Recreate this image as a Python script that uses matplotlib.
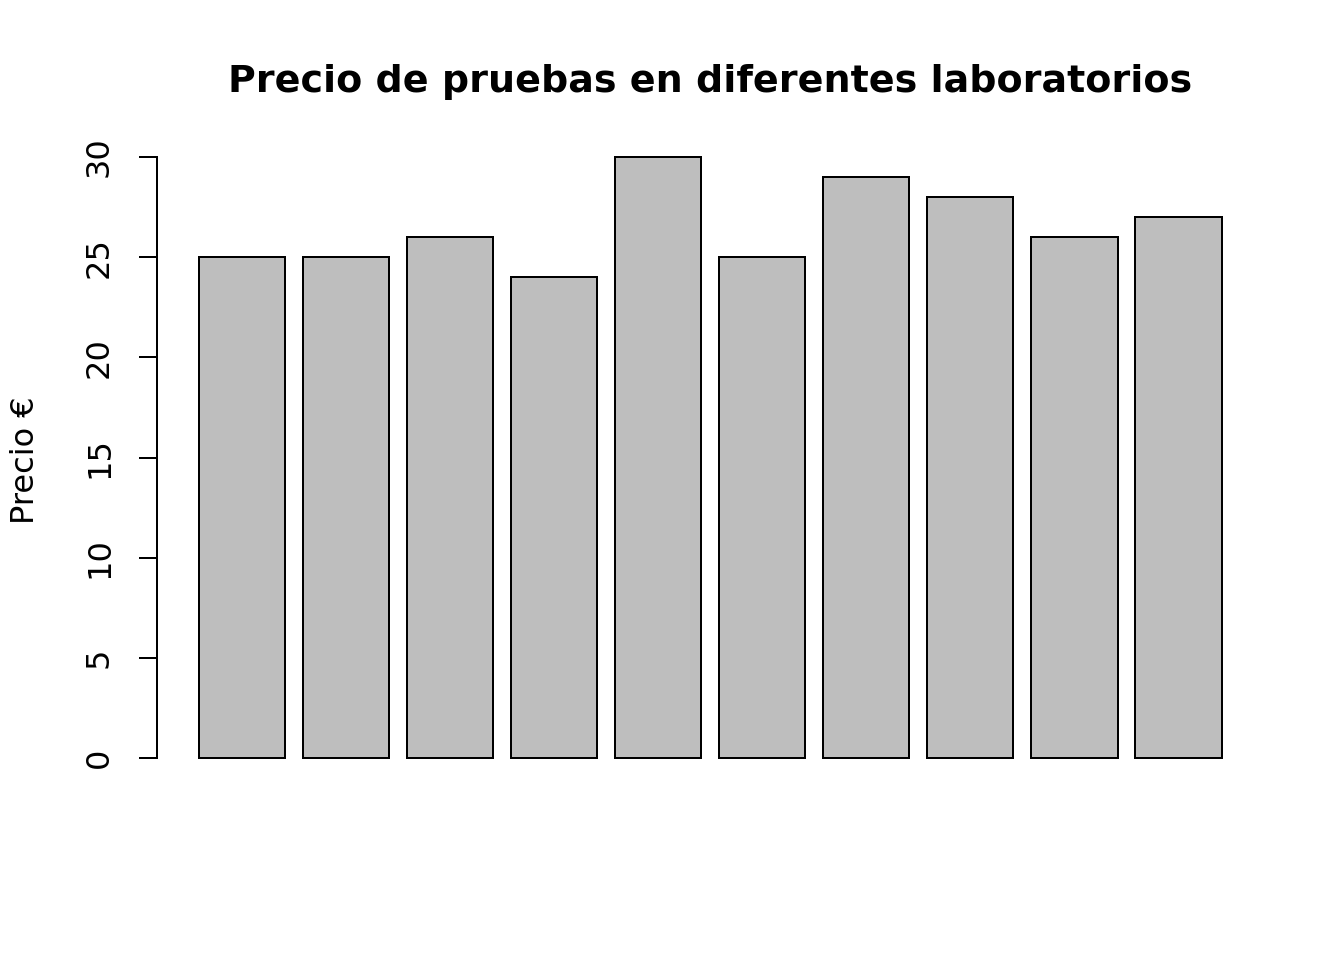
import numpy as np
import matplotlib
matplotlib.use("Agg")
import matplotlib.pyplot as plt

# precios por laboratorio (sin etiquetas en el eje x)
precios = [25, 25, 26, 24, 30, 25, 29, 28, 26, 27]
yticks = [0, 5, 10, 15, 20, 25, 30]
titulo = "Precio de pruebas en diferentes laboratorios"
ylab = "Precio €"

plt.rcParams['font.family'] = ['DejaVu Sans']

fig = plt.figure(figsize=(7, 5), dpi=192)
ax = fig.add_axes([157/1344, 1 - 782/960, (1280.5 - 157)/1344, (782 - 133)/960])

# posiciones estilo barplot de R: ancho 1, espacio 0.2
n = len(precios)
lefts = 0.2 + 1.2*np.arange(n)
ax.bar(lefts, precios, width=1.0, align='edge', color='#bebebe',
       edgecolor='black', linewidth=0.75)

ax.set_xlim(-0.28, 12.68)
ax.set_ylim(-1.2, 31.2)
for s in ['top', 'right', 'bottom']:
    ax.spines[s].set_visible(False)
ax.spines['left'].set_bounds(0, 30)
ax.spines['left'].set_linewidth(0.75)
ax.set_xticks([])
ax.set_yticks(yticks)
ax.set_yticklabels([str(t) for t in yticks], rotation=90, va='center')
ax.tick_params(axis='y', length=6.75, width=0.75, pad=9, labelsize=12)

fig.text(710.5/1344, 1 - 82/960, titulo, ha='center', va='center',
         fontsize=14.25, fontweight='bold')
fig.text(25/1344, 1 - 460/960, ylab, ha='center', va='center',
         rotation=90, fontsize=12)

fig.savefig('out.png', dpi=192)
